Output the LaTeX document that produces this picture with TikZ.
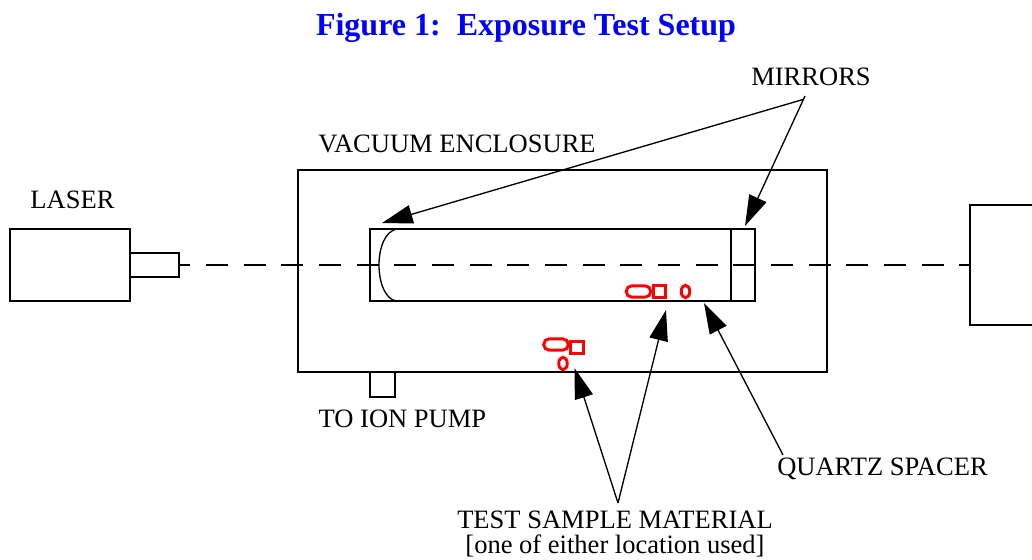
\documentclass[tikz,border=0pt]{standalone}
\usepackage{fontspec}
\setmainfont{Liberation Serif}
\usetikzlibrary{arrows.meta,shapes.geometric}

\begin{document}
\begin{tikzpicture}[
  x=0.75pt, y=-0.75pt,
  box/.style={draw, line width=1pt, inner sep=0pt},
  lbl/.style={font=\fontsize{19.9}{18.8}\selectfont, align=center, inner sep=0pt},
  ttl/.style={font=\fontsize{24}{26}\selectfont\bfseries, text=blue, inner sep=0pt},
  beam/.style={line width=1pt, dash pattern=on 16.5pt off 11.75pt, dash phase=8.5pt},
  smp/.style={draw=red, line width=2.2pt, inner sep=0pt},
  arr/.style={-{Triangle[length=23pt, width=14pt]}, line width=1pt}]
\useasboundingbox (0,0) rectangle (1032,560);
\node[ttl] (title) at (526,28) {Figure 1:\ \ Exposure Test Setup};
% laser and nozzle
\node[box, minimum width=90pt, minimum height=54pt] (laser) at (70,265) {};
\node[box, minimum width=36.75pt, minimum height=18pt] (nozzle) at (154.5,265) {};
\node[lbl] (laserlbl) at (72.5,200) {LASER};
% enclosure
\node[box, minimum width=396.75pt, minimum height=151.5pt] (encl) at (562.5,271) {};
\node[lbl] (encllbl) at (457,143.5) {VACUUM ENCLOSURE};
\node[box, minimum width=18.75pt, minimum height=18.75pt] (pump) at (382.5,384.5) {};
\node[lbl] (pumplbl) at (402.5,419) {TO ION PUMP};
% tube with its two mirrors
\node[box, minimum width=288.75pt, minimum height=54pt] (tube) at (562.5,265) {};
\node[box, minimum width=18pt, minimum height=54pt] (flat) at (743,265) {};
\draw[line width=1pt] (397,229) .. controls (385,231) and (379,248) .. (379,265)
  .. controls (379,282) and (385,299) .. (396,301);
% detector at the far end, cut by the page
\coordinate (detnw) at (1032,205);
\coordinate (detsw) at (1032,325);
\coordinate (detw) at (970,265);
\draw[line width=1pt] (detnw) -| (970,325) -- (detsw);
\draw[beam] (nozzle.east) -- (detw);
% samples
\node[smp, rounded corners=4.2pt, minimum width=18.5pt, minimum height=8.5pt] (stad1) at (638.5,291.5) {};
\node[smp, minimum width=9.4pt, minimum height=8.6pt] (sq1) at (659.5,291.5) {};
\node[smp, ellipse, minimum width=6.4pt, minimum height=9.4pt] (ell1) at (685.5,291.5) {};
\node[smp, rounded corners=4.2pt, minimum width=18.5pt, minimum height=8.5pt] (stad2) at (556,344.5) {};
\node[smp, minimum width=9.4pt, minimum height=8.6pt] (sq2) at (577,347.5) {};
\node[smp, ellipse, minimum width=6.4pt, minimum height=9.4pt] (ell2) at (563,363.5) {};
% callouts
\node[lbl] (mirrorlbl) at (811,77) {MIRRORS};
\node[lbl] (quartzlbl) at (882.5,469) {QUARTZ SPACER};
\node[lbl] (samplelbl) at (615,534) {TEST SAMPLE MATERIAL\\{[one of either location used]}};
\coordinate (mirrorL) at (382,223);
\coordinate (mirrorR) at (745,226);
\coordinate (spacer) at (704,303);
\coordinate (sampleA) at (666,310);
\coordinate (sampleB) at (574.5,368);
\coordinate (mirrorfootL) at (803,99.5);
\coordinate (mirrorfootR) at (805,96);
\coordinate (samplefoot) at (618,503);
\coordinate (quartzfoot) at (783,455);
\draw[arr] (mirrorfootL) -- (mirrorL);
\draw[arr] (mirrorfootR) -- (mirrorR);
\draw[arr] (quartzfoot) -- (spacer);
\draw[arr] (samplefoot) -- (sampleA);
\draw[arr] (samplefoot) -- (sampleB);
\end{tikzpicture}
\end{document}
